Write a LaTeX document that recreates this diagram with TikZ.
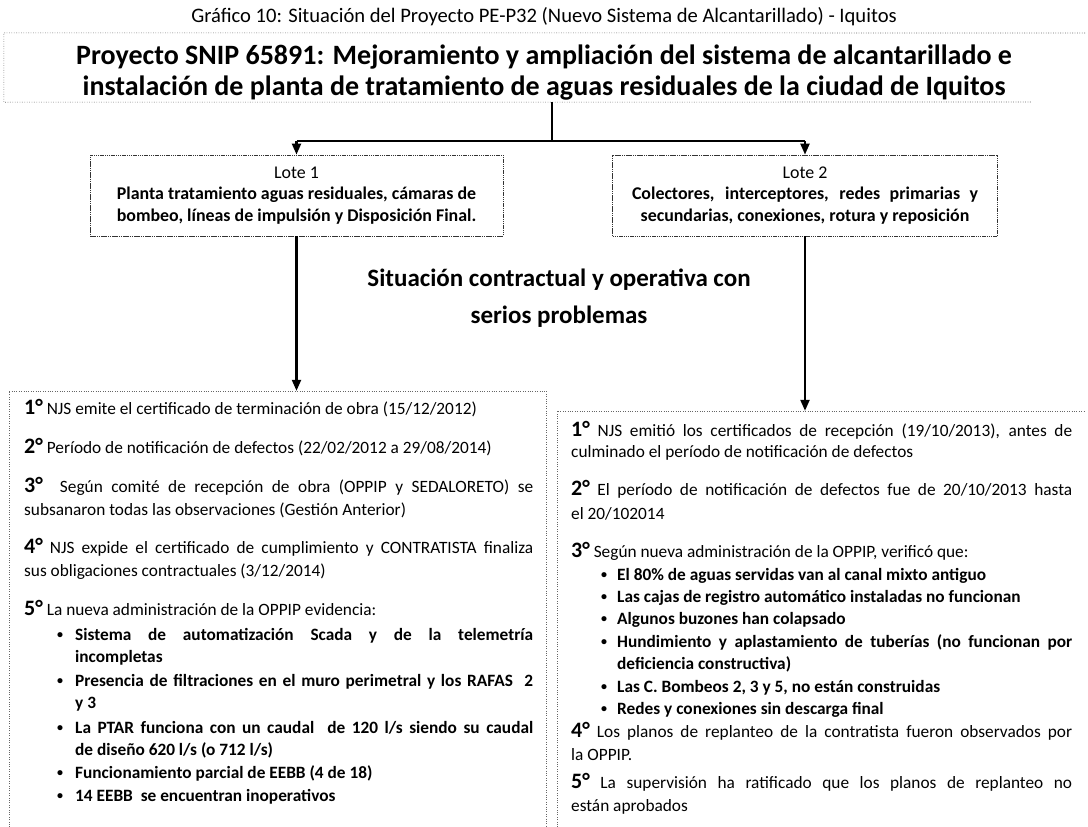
\documentclass[tikz,border=0pt]{standalone}
\usepackage{fontspec}
\setmainfont{Carlito}
\usetikzlibrary{arrows.meta}
\newcommand\nm[1]{{\fontsize{22}{22}\selectfont\bfseries #1}}
\newcommand\jl[2]{\makebox[#1][s]{#2}}
\begin{document}
\begin{tikzpicture}[x=1pt,y=-1pt,
 txt/.style={anchor=base west, inner sep=0pt, font=\fontsize{17.3}{20}\selectfont},
 btxt/.style={anchor=base west, inner sep=0pt, font=\fontsize{17.3}{20}\selectfont\bfseries},
 bul/.style={anchor=base, inner sep=0pt, font=\fontsize{12}{14}\selectfont\bfseries, yshift=2pt},
 frame/.style={draw=black!60, line width=0.6pt, dash pattern=on 0.8pt off 1.6pt},
 lotebox/.style={draw=black!80, line width=0.8pt, dash pattern=on 1.5pt off 0.7pt, minimum height=81pt, inner sep=0pt, align=center, font=\fontsize{17.9}{21.5}\selectfont\bfseries},
 conn/.style={line width=2.6pt, black},
 arr/.style={line width=2.2pt, black, -{Triangle[width=9pt,length=11pt]}},
]
\useasboundingbox (0,0) rectangle (1088,827);
\fill[white] (0,0) rectangle (1088,827);

% header
\node[anchor=base, inner sep=0pt, font=\fontsize{20.6}{20.6}\selectfont] (hdr) at (544,23) {Gráfico 10: Situación del Proyecto PE-P32 (Nuevo Sistema de Alcantarillado) - Iquitos};

% top box
\node[inner sep=0pt, minimum width=1081pt, minimum height=69pt] (topbox) at (544.5,67.5) {};
\draw[frame] (1085,33) -- (topbox.north west) -- (topbox.south west) -- (1032,102);
\node[anchor=base, inner sep=0pt, font=\fontsize{28}{28}\selectfont\bfseries] (t1) at (544,64) {Proyecto SNIP 65891: Mejoramiento y ampliación del sistema de alcantarillado e};
\node[anchor=base, inner sep=0pt, font=\fontsize{28}{28}\selectfont\bfseries] (t2) at (544,95) {instalación de planta de tratamiento de aguas residuales de la ciudad de Iquitos};

% lote boxes
\node[lotebox, minimum width=413pt] (lote1) at (296.5,195.5) {{\mdseries Lote 1}\\Planta tratamiento aguas residuales, cámaras de\\bombeo, líneas de impulsión y Disposición Final.};
\node[lotebox, minimum width=385pt] (lote2) at (805,195.5) {{\mdseries Lote 2}\\\jl{346pt}{Colectores, interceptores, redes primarias y}\\secundarias, conexiones, rotura y reposición};

% connectors top
\coordinate (j) at (552,141);
\coordinate (jl) at (lote1.north |- j);
\coordinate (jr) at (lote2.north |- j);
\draw[conn] (topbox.south -| j) -- (j);
\draw[conn] (jl) -- (jr);
\draw[arr] (jl) -- (lote1.north);
\draw[arr] (jr) -- (lote2.north);

% middle title
\node[align=center, inner sep=0pt, font=\fontsize{25}{37}\selectfont\bfseries] (sit) at (559,298) {Situación contractual y operativa con\\serios problemas};

% lower boxes
\node[inner sep=0pt, minimum width=537pt, minimum height=436pt] (lbox) at (277.5,609) {};
\draw[frame] (lbox.south west) -- (lbox.north west) -- (lbox.north east) -- (lbox.south east);
\node[inner sep=0pt, minimum width=528pt, minimum height=416pt] (rbox) at (821,619) {};
\draw[frame] (rbox.south west) -- (rbox.north west) -- (rbox.north east);

\draw[arr] (lote1.south) -- (lote1.south |- lbox.north);
\draw[arr] (lote2.south) -- (lote2.south |- rbox.north);

% left box text
\node[txt] (a1) at (24,414) {\nm{1°} NJS emite el certificado de terminación de obra (15/12/2012)};
\node[txt] (a2) at (24,453) {\nm{2°} Período de notificación de defectos (22/02/2012 a 29/08/2014)};
\node[txt] (a3) at (24,492) {\jl{509pt}{\nm{3°}\ \ Según comité de recepción de obra (OPPIP y SEDALORETO) se}};
\node[txt] (a3b) at (24,515) {subsanaron todas las observaciones (Gestión Anterior)};
\node[txt] (a4) at (24,553) {\jl{509pt}{\nm{4°} NJS expide el certificado de cumplimiento y CONTRATISTA finaliza}};
\node[txt] (a4b) at (24,576) {sus obligaciones contractuales (3/12/2014)};
\node[txt] (a5) at (24,615) {\nm{5°} La nueva administración de la OPPIP evidencia:};
\node[bul] (ab1) at (60,640) {•};
\node[btxt] (ab1t) at (75,640) {\jl{458pt}{Sistema de automatización Scada y de la telemetría}};
\node[btxt] (ab1u) at (75,662) {incompletas};
\node[bul] (ab2) at (60,686) {•};
\node[btxt] (ab2t) at (75,686) {\jl{458pt}{Presencia de filtraciones en el muro perimetral y los RAFAS\ \ 2}};
\node[btxt] (ab2u) at (75,708) {y 3};
\node[bul] (ab3) at (60,733) {•};
\node[btxt] (ab3t) at (75,733) {\jl{458pt}{La PTAR funciona con un caudal\ \ de 120 l/s siendo su caudal}};
\node[btxt] (ab3u) at (75,755) {de diseño 620 l/s (o 712 l/s)};
\node[bul] (ab4) at (60,778) {•};
\node[btxt] (ab4t) at (75,778) {Funcionamiento parcial de EEBB (4 de 18)};
\node[bul] (ab5) at (60,801) {•};
\node[btxt] (ab5t) at (75,801) {14 EEBB\ \ se encuentran inoperativos};

% right box text
\node[txt] (b1) at (571,436) {\jl{501pt}{\nm{1°} NJS emitió los certificados de recepción (19/10/2013), antes de}};
\node[txt] (b1b) at (571,457) {culminado el período de notificación de defectos};
\node[txt] (b2) at (571,495) {\jl{501pt}{\nm{2°} El período de notificación de defectos fue de 20/10/2013 hasta}};
\node[txt] (b2b) at (571,519) {el 20/102014};
\node[txt] (b3) at (571,557) {\nm{3°} Según nueva administración de la OPPIP, verificó que:};
\node[bul] (bb1) at (604,580) {•};
\node[btxt] (bb1t) at (617,580) {El 80\% de aguas servidas van al canal mixto antiguo};
\node[bul] (bb2) at (604,602) {•};
\node[btxt] (bb2t) at (617,602) {Las cajas de registro automático instaladas no funcionan};
\node[bul] (bb3) at (604,624) {•};
\node[btxt] (bb3t) at (617,624) {Algunos buzones han colapsado};
\node[bul] (bb4) at (604,647) {•};
\node[btxt] (bb4t) at (617,647) {\jl{455pt}{Hundimiento y aplastamiento de tuberías (no funcionan por}};
\node[btxt] (bb4u) at (617,669) {deficiencia constructiva)};
\node[bul] (bb5) at (604,692) {•};
\node[btxt] (bb5t) at (617,692) {Las C. Bombeos 2, 3 y 5, no están construidas};
\node[bul] (bb6) at (604,714) {•};
\node[btxt] (bb6t) at (617,714) {Redes y conexiones sin descarga final};
\node[txt] (b4) at (571,737) {\jl{501pt}{\nm{4°} Los planos de replanteo de la contratista fueron observados por}};
\node[txt] (b4b) at (571,760) {la OPPIP.};
\node[txt] (b5) at (571,788) {\jl{501pt}{\nm{5°} La supervisión ha ratificado que los planos de replanteo no}};
\node[txt] (b5b) at (571,811) {están aprobados};
\end{tikzpicture}
\end{document}
